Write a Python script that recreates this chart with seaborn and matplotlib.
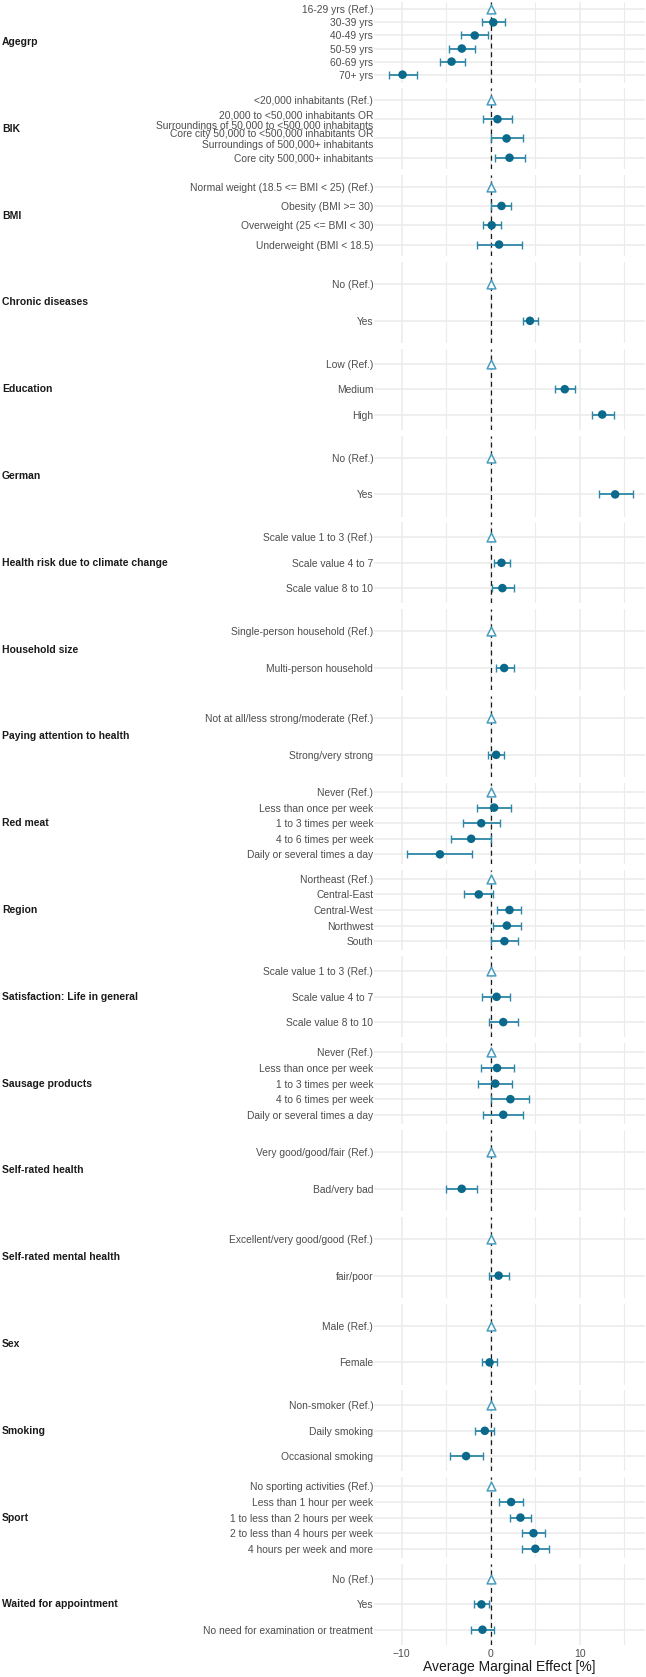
import numpy as np
import pandas as pd
import matplotlib
matplotlib.use("Agg")
import matplotlib.pyplot as plt
import seaborn as sns

sns.set_theme(style="white")
plt.rcParams['font.family'] = ['Liberation Sans', 'DejaVu Sans']

# ---------------- data ----------------
group = (
    ["Agegrp"] * 6 + ["BIK"] * 4 + ["BMI"] * 4 + ["Chronic diseases"] * 2 +
    ["Education"] * 3 + ["German"] * 2 + ["Health risk due to climate change"] * 3 +
    ["Household size"] * 2 + ["Paying attention to health"] * 2 + ["Red meat"] * 5 +
    ["Region"] * 5 + ["Satisfaction: Life in general"] * 3 + ["Sausage products"] * 5 +
    ["Self-rated health"] * 2 + ["Self-rated mental health"] * 2 + ["Sex"] * 2 +
    ["Smoking"] * 3 + ["Sport"] * 5 + ["Waited for appointment"] * 3
)
level = [
    "16-29 yrs (Ref.)", "30-39 yrs", "40-49 yrs", "50-59 yrs", "60-69 yrs", "70+ yrs",
    "<20,000 inhabitants (Ref.)",
    "20,000 to <50,000 inhabitants OR\nSurroundings of 50,000 to <500,000 inhabitants",
    "Core city 50,000 to <500,000 inhabitants OR\nSurroundings of 500,000+ inhabitants",
    "Core city 500,000+ inhabitants",
    "Normal weight (18.5 <= BMI < 25) (Ref.)", "Obesity (BMI >= 30)",
    "Overweight (25 <= BMI < 30)", "Underweight (BMI < 18.5)",
    "No (Ref.)", "Yes",
    "Low (Ref.)", "Medium", "High",
    "No (Ref.)", "Yes",
    "Scale value 1 to 3 (Ref.)", "Scale value 4 to 7", "Scale value 8 to 10",
    "Single-person household (Ref.)", "Multi-person household",
    "Not at all/less strong/moderate (Ref.)", "Strong/very strong",
    "Never (Ref.)", "Less than once per week", "1 to 3 times per week",
    "4 to 6 times per week", "Daily or several times a day",
    "Northeast (Ref.)", "Central-East", "Central-West", "Northwest", "South",
    "Scale value 1 to 3 (Ref.)", "Scale value 4 to 7", "Scale value 8 to 10",
    "Never (Ref.)", "Less than once per week", "1 to 3 times per week",
    "4 to 6 times per week", "Daily or several times a day",
    "Very good/good/fair (Ref.)", "Bad/very bad",
    "Excellent/very good/good (Ref.)", "fair/poor",
    "Male (Ref.)", "Female",
    "Non-smoker (Ref.)", "Daily smoking", "Occasional smoking",
    "No sporting activities (Ref.)", "Less than 1 hour per week",
    "1 to less than 2 hours per week", "2 to less than 4 hours per week",
    "4 hours per week and more",
    "No (Ref.)", "Yes", "No need for examination or treatment",
]
estimate = [
    0, 0.28, -1.8, -3.25, -4.4, -9.9,
    0, 0.75, 1.77, 2.1,
    0, 1.2, 0.1, 0.93,
    0, 4.4,
    0, 8.3, 12.5,
    0, 13.95,
    0, 1.2, 1.3,
    0, 1.5,
    0, 0.6,
    0, 0.37, -1.07, -2.2, -5.7,
    0, -1.35, 2.1, 1.8, 1.53,
    0, 0.65, 1.4,
    0, 0.7, 0.5, 2.2, 1.4,
    0, -3.26,
    0, 0.88,
    0, -0.14,
    0, -0.67, -2.77,
    0, 2.28, 3.33, 4.79, 5.0,
    0, -1.05, -0.93,
]
ci_low = [
    0, -1.0, -3.3, -4.7, -5.7, -11.4,
    0, -0.9, 0.0, 0.47,
    0, 0.05, -0.85, -1.6,
    0, 3.6,
    0, 7.2, 11.3,
    0, 12.1,
    0, 0.37, 0.1,
    0, 0.56,
    0, -0.28,
    0, -1.6, -3.1, -4.5, -9.35,
    0, -3.0, 0.74, 0.28, 0.05,
    0, -0.93, -0.2,
    0, -1.07, -1.4, 0.05, -0.84,
    0, -5.0,
    0, -0.23,
    0, -1.0,
    0, -1.8, -4.6,
    0, 0.93, 2.2, 3.55, 3.55,
    0, -1.87, -2.2,
]
ci_high = [
    0, 1.6, -0.3, -1.8, -2.9, -8.3,
    0, 2.4, 3.6, 3.86,
    0, 2.3, 1.1, 3.5,
    0, 5.25,
    0, 9.4, 13.8,
    0, 15.9,
    0, 2.2, 2.56,
    0, 2.56,
    0, 1.5,
    0, 2.3, 1.0, 0.05, -2.1,
    0, 0.23, 3.44, 3.35, 3.07,
    0, 2.2, 3.07,
    0, 2.56, 2.4, 4.3, 3.67,
    0, -1.53,
    0, 2.0,
    0, 0.74,
    0, 0.41, -0.86,
    0, 3.66, 4.5, 6.13, 6.54,
    0, -0.15, 0.41,
]
x_ticks = [-10, 0, 10]
x_minor = [-5, 5, 15]
x_label = "Average Marginal Effect [%]"

df = pd.DataFrame({"group": group, "level": level, "estimate": estimate,
                   "ci_low": ci_low, "ci_high": ci_high})
df["is_ref"] = df["level"].str.contains(r"\(Ref\.\)")
group_order = list(dict.fromkeys(group))

# ---------------- layout ----------------
W, H = 646, 1677
fig = plt.figure(figsize=(W / 100, H / 100), dpi=100)
panel_left, panel_right = 374, 645
panel_h, gap, top0 = 81.0, 5.8, 1.5

PT_COLOR = "#0b6a8c"
ERR_COLOR = "#2f87a8"
REF_COLOR = "#4a9dbf"
GRID = "#ebebeb"

for i, g in enumerate(group_order):
    sub = df[df["group"] == g].reset_index(drop=True)
    sub["ypos"] = np.arange(len(sub))
    n = len(sub)
    top = top0 + i * (panel_h + gap)
    ax = fig.add_axes([panel_left / W, 1 - (top + panel_h) / H,
                       (panel_right - panel_left) / W, panel_h / H])
    ax.set_xlim(-13.1, 17.3)
    ax.set_ylim(n - 1 + 0.6, -0.6)
    ax.set_xticks(x_ticks)
    ax.set_xticks(x_minor, minor=True)
    ax.set_yticks(sub["ypos"])
    ax.set_yticklabels(sub["level"], linespacing=1.08)
    ax.grid(True, which="major", axis="both", color=GRID, lw=1.1, zorder=0)
    ax.grid(True, which="minor", axis="x", color=GRID, lw=0.8, zorder=0)
    ax.set_axisbelow(True)
    for s in ax.spines.values():
        s.set_visible(False)
    ax.tick_params(axis="both", which="both", length=0, labelsize=7.4,
                   labelcolor="#4d4d4d", pad=0.5)
    ax.axvline(0, color="#1a1a1a", ls=(0, (4, 3)), lw=0.9, zorder=2)

    nonref = sub[~sub["is_ref"]]
    ref = sub[sub["is_ref"]]
    ax.errorbar(nonref["estimate"], nonref["ypos"],
                xerr=[nonref["estimate"] - nonref["ci_low"],
                      nonref["ci_high"] - nonref["estimate"]],
                fmt="none", ecolor=ERR_COLOR, elinewidth=1.3, capsize=2.6,
                capthick=1.0, zorder=3)
    sns.scatterplot(data=nonref, x="estimate", y="ypos", ax=ax, s=38,
                    color=PT_COLOR, edgecolor="none", zorder=4, legend=False)
    ax.scatter(ref["estimate"], ref["ypos"], marker="^", s=40,
               facecolors="white", edgecolors=REF_COLOR, linewidths=1.1,
               zorder=4)
    ax.set_xlabel("")
    ax.set_ylabel("")
    if i < len(group_order) - 1:
        ax.set_xticklabels([])
    else:
        ax.tick_params(axis="x", labelsize=7.5, pad=3)
        ax.set_xlabel(x_label, fontsize=10, color="#1a1a1a", labelpad=1)

    fig.text(2 / W, 1 - (top + panel_h / 2) / H, g, ha="left", va="center",
             fontsize=7.5, fontweight="bold", color="#1a1a1a")

fig.savefig("out.png", dpi=100)
